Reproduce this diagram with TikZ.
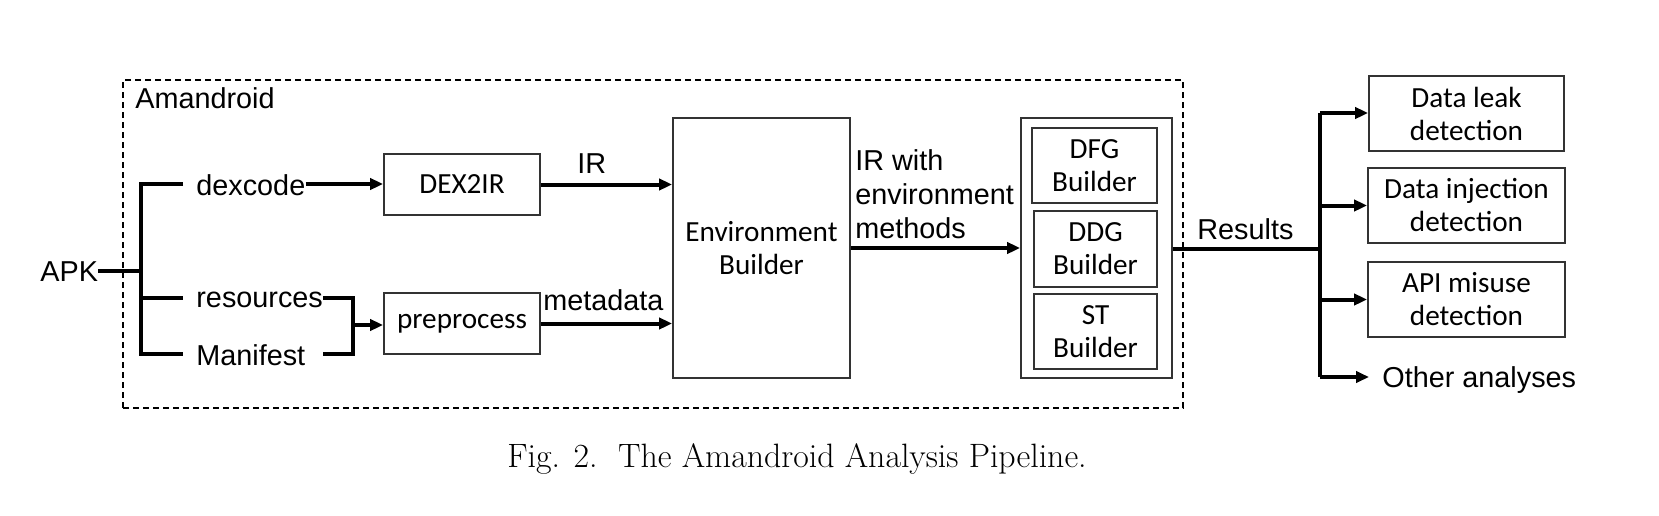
\documentclass[tikz,border=0pt]{standalone}
\usepackage{fontspec}
\newfontfamily\arialf{Liberation Sans}
\newfontfamily\calibrif{Carlito}
\usetikzlibrary{arrows.meta}
\begin{document}
\begin{tikzpicture}[x=0.5pt,y=-0.5pt,
  lbl/.style={font=\fontsize{14.4}{17}\selectfont\arialf, inner sep=1pt},
  box/.style={draw=black!80, line width=0.9pt, font=\fontsize{14.6}{16.5}\selectfont\calibrif, align=center, inner sep=0pt},
  conn/.style={line width=2pt},
  arr/.style={conn, -{Triangle[length=6.5pt,width=5.6pt]}}]
\useasboundingbox (0,0) rectangle (1659,515);
% outer dashed frame
\node[draw, dash pattern=on 3pt off 2pt, line width=0.7pt, minimum width=530pt, minimum height=164pt, inner sep=0pt] (amand) at (653,244) {};
\node[lbl, anchor=base west, inner sep=0pt] (amlbl) at (135,108) {Amandroid};
% inputs
\node[lbl, anchor=base west, inner sep=0pt] (apk) at (40,281) {APK};
\node[lbl, anchor=base west, inner sep=0pt] (dex) at (196,195) {dexcode};
\node[lbl, anchor=base west, inner sep=0pt] (res) at (196,307) {resources};
\node[lbl, anchor=base west, inner sep=0pt] (man) at (196,365) {Manifest};
\coordinate (bt) at (141,184);
\coordinate (bb) at (141,354);
\coordinate (bm) at (141,271);
\coordinate (bs) at (141,298);
\coordinate (dxs) at (183,184);
\coordinate (rss) at (183,298);
\coordinate (mns) at (183,354);
\coordinate (rj) at (353,298);
\coordinate (mj) at (353,354);
\coordinate (mje) at (323,354);
\coordinate (pj) at (353,325);
% boxes
\node[box, minimum width=78pt, minimum height=30.5pt] (dex2ir) at (462,184.5) {DEX2IR};
\node[box, minimum width=78pt, minimum height=30.5pt] (pre) at (462,323.5) {preprocess};
\node[box, minimum width=88.5pt, minimum height=130pt] (env) at (761.5,248) {Environment\\Builder};
\node[box, minimum width=75.5pt, minimum height=130pt] (outer) at (1096.5,248) {};
\node[box, minimum width=62.5pt, minimum height=37.5pt] (dfg) at (1094.5,165.5) {DFG\\Builder};
\node[box, minimum width=61.5pt, minimum height=38pt] (ddg) at (1095.5,249) {DDG\\Builder};
\node[box, minimum width=61.5pt, minimum height=37.5pt] (st) at (1095.5,331.5) {ST\\Builder};
\node[box, minimum width=97.5pt, minimum height=37.5pt] (leak) at (1466.5,113.5) {Data leak\\detection};
\node[box, minimum width=98.5pt, minimum height=37.5pt] (inj) at (1466.5,205.5) {Data injection\\detection};
\node[box, minimum width=98.5pt, minimum height=37.5pt] (api) at (1466.5,299.5) {API misuse\\detection};
\node[lbl, anchor=base west, inner xsep=6.5pt, inner ysep=0pt] (other) at (1369,387) {Other analyses};
% labels
\node[lbl, anchor=base west, inner sep=0pt] (irl) at (577,173) {IR};
\node[lbl, anchor=base west, inner sep=0pt] (metal) at (543,310) {metadata};
\node[lbl, anchor=north west, align=left, inner sep=0pt] (irwl) at (855,149) {IR with\\environment\\methods};
\node[lbl, anchor=base west, inner sep=0pt] (resl) at (1197,239) {Results};
% connectors
\draw[conn] (apk.east |- bm) -- (bm);
\draw[conn] (dxs) -- (bt) -- (bb) -- (mns);
\draw[conn] (bs) -- (rss);
\draw[arr] (dex.east |- bt) -- (bt -| dex2ir.west);
\draw[conn] (res.east |- rj) -- (rj) -- (mj) -- (mje);
\draw[arr] (pj) -- (pj -| pre.west);
\draw[arr] (dex2ir.east) -- (dex2ir.east -| env.west);
\draw[arr] (pre.east) -- (pre.east -| env.west);
\draw[arr] (env.east) -- (outer.west);
\coordinate (rb) at (1320,249);
\coordinate (rtop) at (1320,113);
\coordinate (rbot) at (1320,377);
\draw[conn] (outer.east |- rb) -- (rb);
\draw[conn] (rtop) -- (rbot);
\draw[arr] (rtop) -- (rtop -| leak.west);
\draw[arr] (rb |- inj.west) -- (inj.west);
\draw[arr] (rb |- api.west) -- (api.west);
\draw[arr] (rbot) -- (rbot -| other.west);
% caption
\node[font=\fontsize{16.9}{19}\selectfont, anchor=base] (cap) at (797,467) {Fig. 2.\ \ The Amandroid Analysis Pipeline.};
\end{tikzpicture}
\end{document}
